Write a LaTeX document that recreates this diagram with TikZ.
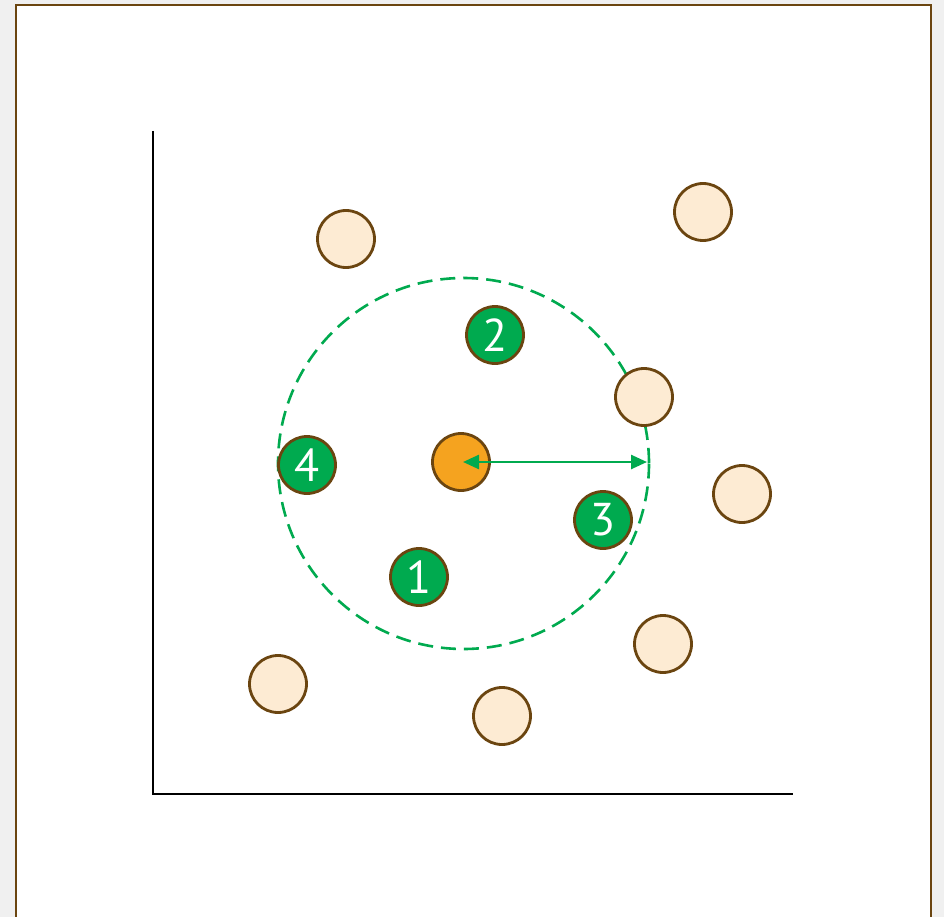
\documentclass[tikz,border=0pt]{standalone}
\usepackage{fontspec}
\setmainfont{PT Sans}
\usetikzlibrary{arrows.meta}
\definecolor{brn}{HTML}{6B4510}
\definecolor{grn}{HTML}{00AA4F}
\definecolor{org}{HTML}{F5A31F}
\definecolor{bge}{HTML}{FDEBD3}
\definecolor{bgg}{HTML}{F0F0F0}
\tikzset{
  pt/.style={circle, draw=brn, line width=2.8pt, minimum size=57pt, inner sep=0pt},
  other/.style={pt, fill=bge},
  nbr/.style={pt, fill=grn, text=white, font=\fontsize{46}{46}\selectfont},
  query/.style={pt, fill=org},
  axis/.style={black, line width=1.3pt},
}
\begin{document}
\begin{tikzpicture}[x=1pt,y=-1pt]
\useasboundingbox (0,0) rectangle (944,917);
\fill[bgg] (0,0) rectangle (944,917);
\filldraw[fill=white, draw=brn, line width=2.6pt] (16,5) rectangle (931,940);
\coordinate (o) at (153,794);
\coordinate (ytop) at (153,131);
\coordinate (xend) at (793,794);
\draw[axis] (ytop) -- (o) -- (xend);
% dashed neighbourhood
\coordinate (c) at (463.5,463.5);
\draw[grn, line width=2.6pt, dash pattern=on 15pt off 8pt] (c) circle (185.5);
% other points
\node[other] (p1) at (346,239) {};
\node[other] (p2) at (703,212) {};
\node[other] (p3) at (644,397) {};
\node[other] (p4) at (742,494) {};
\node[other] (p5) at (663,644) {};
\node[other] (p6) at (278,684) {};
\node[other] (p7) at (502,716) {};
% neighbours
\node[nbr] (n2) at (495,335) {2};
\node[nbr] (n4) at (307,465) {4};
\node[nbr] (n3) at (603,520) {3};
\node[nbr] (n1) at (419,577) {1};
% query
\node[query] (q) at (461,462) {};
\coordinate (qc) at (463,462);
\coordinate (r) at (647,462);
\draw[grn, line width=2.5pt, {Triangle[length=16pt,width=14pt]}-{Triangle[length=16pt,width=14pt]}] (qc) -- (r);
\end{tikzpicture}
\end{document}
